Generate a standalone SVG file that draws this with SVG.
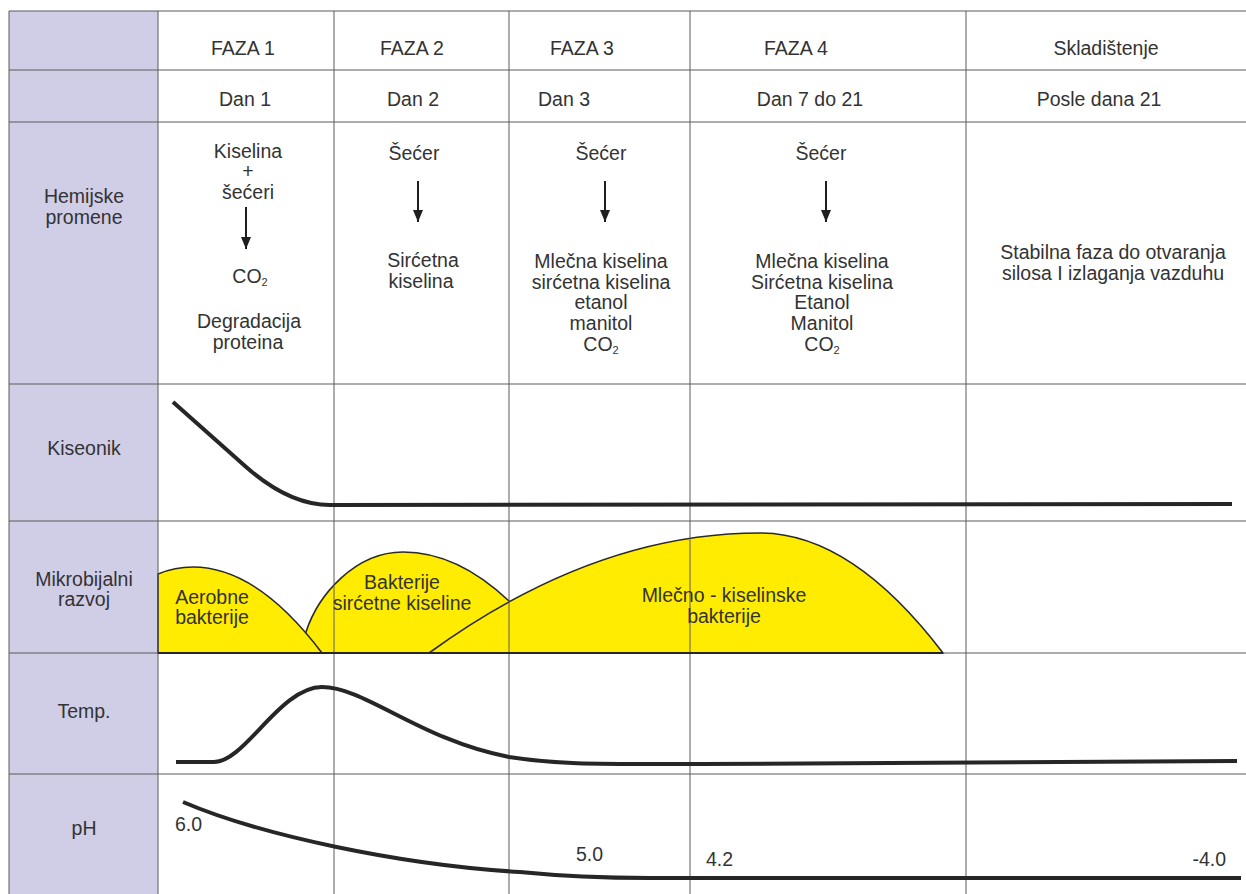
<svg xmlns="http://www.w3.org/2000/svg" width="1246" height="894" viewBox="0 0 1246 894">
<defs>
<style>
text{font-family:"Liberation Sans",Arial,sans-serif;font-size:19.5px;fill:#333333;text-anchor:middle}
.l{text-anchor:start}
.r{text-anchor:end}
.sub{font-size:11px}
.grid{stroke:#5a5a5a;stroke-width:1;fill:none}
.curve{stroke:#262626;stroke-width:4;fill:none;stroke-linecap:butt;stroke-linejoin:round}
.blob{fill:#ffec00;stroke:#2a2a2a;stroke-width:1.6}
.arr{stroke:#1e1e1e;stroke-width:2;fill:none}
</style>
<marker id="ah" markerWidth="12" markerHeight="10" refX="12" refY="5" orient="auto" markerUnits="userSpaceOnUse" viewBox="0 0 12 10">
<path d="M0,0 L12,5 L0,10 Z" fill="#1e1e1e"/>
</marker>
</defs>
<rect width="1246" height="894" fill="#ffffff"/>
<rect x="9" y="11" width="149" height="883" fill="#d0cde6"/>

<g id="microbes">
<path class="blob" d="M298,653 L306,632 C318,595 355,552 403,552 C438,552 474,568 509,601 C525,618 535,635 545,653 Z"/>
<path class="blob" d="M158,653 L158,574 C170,569 180,567 193,567 C236,567 279,596 322,653 Z"/>
<path class="blob" d="M429,653 C539,573 650,533 760,533 C821,533 882,573 943,653 Z"/>
</g>

<g id="grid">
<path class="grid" d="M9,11 H1246 M9,70 H1246 M9,122 H1246 M9,384 H1246 M9,521 H1246 M9,653 H1246 M9,774 H1246"/>
<path class="grid" d="M9,11 V894 M158,11 V894 M334,11 V894 M509,11 V894 M690,11 V894 M966,11 V894"/>
<path d="M158,653 H943" stroke="#262626" stroke-width="2"/>
</g>

<g id="header-row">
<text x="243" y="55">FAZA 1</text>
<text x="412" y="55">FAZA 2</text>
<text x="582" y="55">FAZA 3</text>
<text x="796" y="55">FAZA 4</text>
<text x="1106" y="55">Skladištenje</text>
</g>
<g id="day-row">
<text x="245" y="106">Dan 1</text>
<text x="413" y="106">Dan 2</text>
<text x="564" y="106">Dan 3</text>
<text x="810" y="106">Dan 7 do 21</text>
<text x="1099" y="106">Posle dana 21</text>
</g>

<g id="row-labels">
<text x="84" y="203">Hemijske</text>
<text x="84" y="224">promene</text>
<text x="84" y="455">Kiseonik</text>
<text x="84" y="586">Mikrobijalni</text>
<text x="84" y="606">razvoj</text>
<text x="84" y="718">Temp.</text>
<text x="84" y="835">pH</text>
</g>

<g id="chem-faza1">
<text x="248" y="158">Kiselina</text>
<text x="248" y="178">+</text>
<text x="248" y="199">šećeri</text>
<text x="250" y="283">CO<tspan class="sub" dy="3">2</tspan></text>
<text x="249" y="328">Degradacija</text>
<text x="248" y="349">proteina</text>
</g>
<g id="chem-faza2">
<text x="414" y="160">Šećer</text>
<text x="423" y="267">Sirćetna</text>
<text x="421" y="288">kiselina</text>
</g>
<g id="chem-faza3">
<text x="601" y="160">Šećer</text>
<text x="601" y="268">Mlečna kiselina</text>
<text x="601" y="289">sirćetna kiselina</text>
<text x="601" y="309">etanol</text>
<text x="601" y="330">manitol</text>
<text x="601" y="351">CO<tspan class="sub" dy="3">2</tspan></text>
</g>
<g id="chem-faza4">
<text x="821" y="160">Šećer</text>
<text x="822" y="268">Mlečna kiselina</text>
<text x="822" y="289">Sirćetna kiselina</text>
<text x="822" y="309">Etanol</text>
<text x="822" y="330">Manitol</text>
<text x="822" y="351">CO<tspan class="sub" dy="3">2</tspan></text>
</g>
<g id="chem-storage">
<text x="1113" y="259">Stabilna faza do otvaranja</text>
<text x="1113" y="280">silosa I izlaganja vazduhu</text>
</g>

<g id="microbe-labels">
<text x="212" y="604">Aerobne</text>
<text x="212" y="624">bakterije</text>
<text x="402" y="589">Bakterije</text>
<text x="402" y="610">sirćetne kiseline</text>
<text x="724" y="602">Mlečno - kiselinske</text>
<text x="724" y="623">bakterije</text>
</g>

<g id="connectors">
<path class="arr" d="M246,207 V249" marker-end="url(#ah)"/>
<path class="arr" d="M418,181 V222" marker-end="url(#ah)"/>
<path class="arr" d="M605,181 V222" marker-end="url(#ah)"/>
<path class="arr" d="M826,181 V222" marker-end="url(#ah)"/>
</g>

<g id="curves">
<path id="oxygen" class="curve" d="M173,402 L245,466 C272,490 300,505 330,505 L1232,504"/>
<path id="temp" class="curve" d="M176,762 L214,762 C245,762 280,687 322,687 C365,687 420,740 509,757 C560,765 600,764 700,764 L1237,761"/>
<path id="ph" class="curve" d="M183,802 C260,835 400,865 520,872 C560,876 600,878 650,878 L1241,878"/>
</g>

<g id="ph-values">
<text class="l" x="175" y="831">6.0</text>
<text class="l" x="576" y="861">5.0</text>
<text class="l" x="706" y="866">4.2</text>
<text class="r" x="1226" y="866">-4.0</text>
</g>
</svg>
